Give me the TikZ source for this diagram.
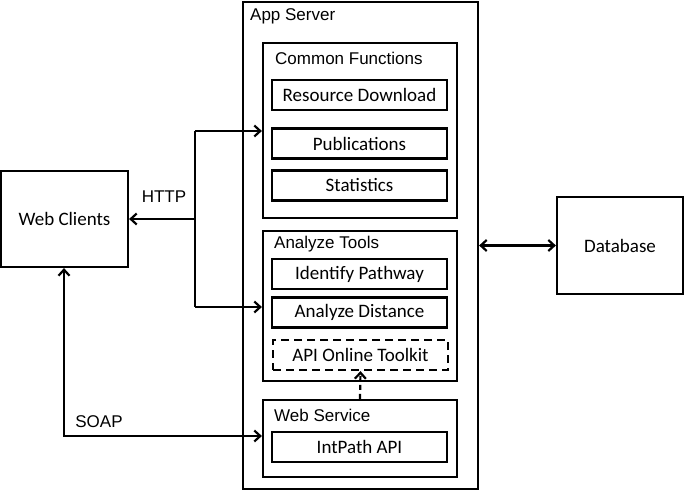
\documentclass[tikz,border=0pt]{standalone}
\usepackage{fontspec}
\setmainfont{Carlito}
\newfontfamily\arialf{Liberation Sans}
\usetikzlibrary{arrows.meta}
\tikzset{
  box/.style={draw, line width=2.2pt, inner sep=0pt, fill=none},
  cbox/.style={box, minimum width=175pt, minimum height=30pt, font=\fontsize{19}{22}\selectfont},
  grp/.style={font=\arialf\fontsize{17}{20}\selectfont, anchor=west, inner sep=0pt},
  conn/.style={line width=2.2pt},
  tip/.style={-{Straight Barb[length=6pt,width=11pt]}},
  dtip/.style={{Straight Barb[length=6pt,width=11pt]}-{Straight Barb[length=6pt,width=11pt]}},
  dash box/.style={dash pattern=on 8pt off 5pt}
}
\begin{document}
\begin{tikzpicture}[x=1pt,y=-1pt]
\useasboundingbox (0,0) rectangle (685,492);
% containers
\node[box, minimum width=235pt, minimum height=487pt] (app) at (360.5,245.5) {};
\node[box, minimum width=194pt, minimum height=175pt] (cf) at (360,130.5) {};
\node[box, minimum width=194pt, minimum height=150pt] (at) at (360,306) {};
\node[box, minimum width=194pt, minimum height=77pt] (ws) at (360,438.5) {};
% group labels
\node[grp] (lapp) at (250,16) {App Server};
\node[grp] (lcf) at (275,58) {Common Functions};
\node[grp] (lat) at (274,244) {Analyze Tools};
\node[grp] (lws) at (274,415) {Web Service};
% inner boxes
\node[cbox] (rd) at (359.5,95) {Resource Download};
\node[cbox] (pub) at (359.5,143.5) {Publications};
\node[cbox] (stat) at (359.5,185.5) {Statistics};
\node[cbox] (ip) at (359.5,274) {Identify Pathway};
\node[cbox] (ad) at (359.5,312.5) {Analyze Distance};
\node[cbox, dash box] (api) at (360.5,355) {API Online Toolkit};
\node[cbox] (iapi) at (359.5,447) {IntPath API};
% outer boxes
\node[box, minimum width=127pt, minimum height=96pt, font=\fontsize{19}{22}\selectfont] (wc) at (64.5,219) {Web Clients};
\node[box, minimum width=126pt, minimum height=97pt, font=\fontsize{19}{22}\selectfont] (db) at (620,245.5) {Database};
% connectors
\coordinate (j) at (195,219);
\coordinate (h1) at (195,131);
\coordinate (h2) at (195,307);
\coordinate (s1) at (64,436);
\draw[conn, tip] (j) -- (wc.east);
\draw[conn] (h1) -- (h2);
\draw[conn, tip] (h1) -- (h1 -| cf.west);
\draw[conn, tip] (h2) -- (h2 -| at.west);
\draw[conn, dtip] (wc.south -| s1) -- (s1) -- (s1 -| ws.west);
\draw[conn, dtip] (db.west -| app.east) -- (db.west);
\draw[conn, tip, dash pattern=on 5pt off 4pt] (ws.north) -- (api.south);
\node[font=\arialf\fontsize{17}{20}\selectfont] (lhttp) at (164,197) {HTTP};
\node[font=\arialf\fontsize{17}{20}\selectfont] (lsoap) at (99,422) {SOAP};
\end{tikzpicture}
\end{document}
